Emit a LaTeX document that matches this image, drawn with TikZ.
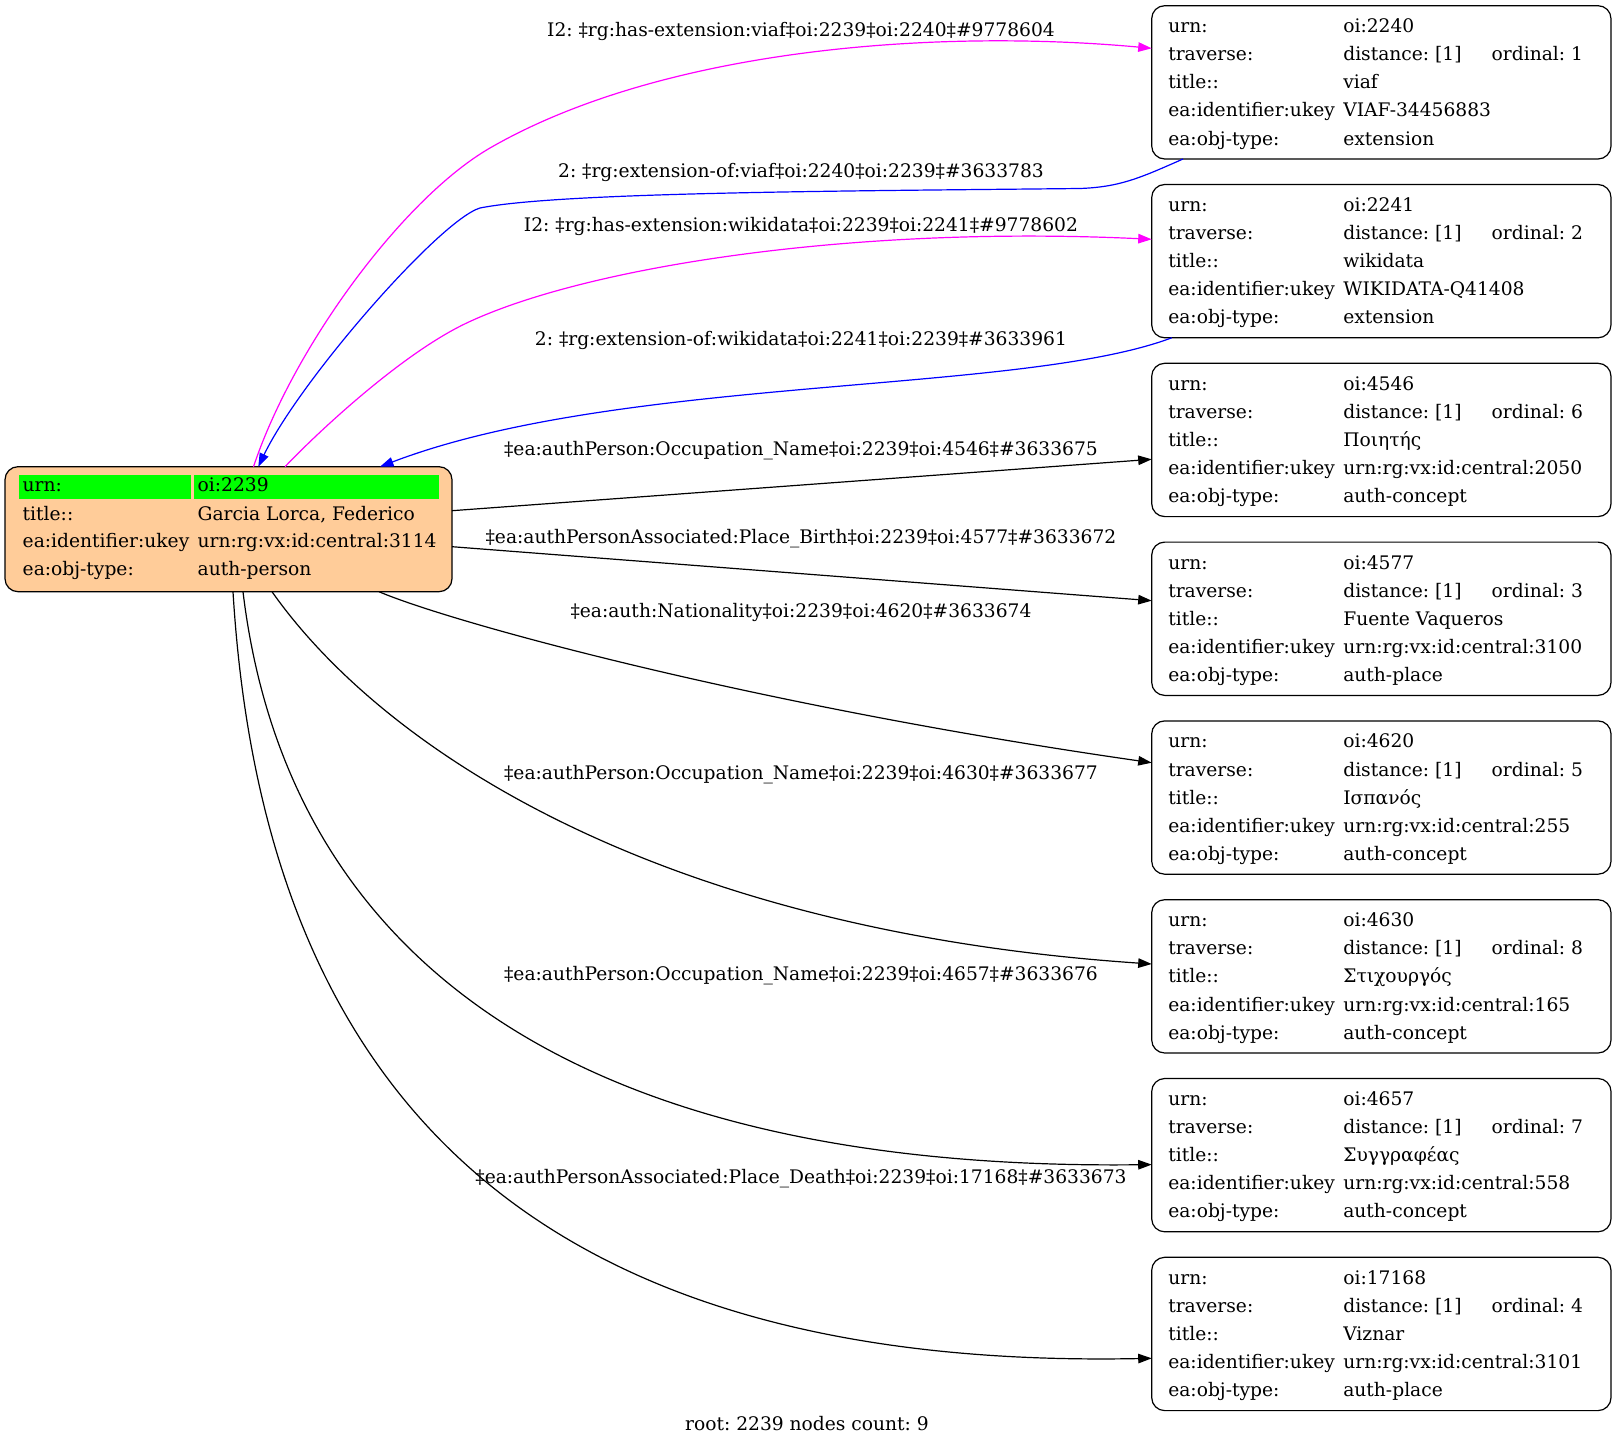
\documentclass[tikz,border=0pt]{standalone}
\usepackage{fontspec}
\setmainfont{DejaVu Serif}
\usetikzlibrary{arrows.meta,calc}
\definecolor{rootfill}{HTML}{FFCC99}
\definecolor{hlgreen}{HTML}{00FF00}
\definecolor{extmag}{HTML}{FF00FF}
\definecolor{extblue}{HTML}{0000FF}
\newcommand\infobox[7]{%
  \node[box] (#1) at (1151.7,#2) {};
  \node[txt] (#1-k1) at ($(#1.north west)+(16.6,27)$) {urn:};
  \node[txt] (#1-k2) at ($(#1.north west)+(16.6,55.1)$) {traverse:};
  \node[txt] (#1-k3) at ($(#1.north west)+(16.6,83.2)$) {title::};
  \node[txt] (#1-k4) at ($(#1.north west)+(16.6,111.3)$) {ea:identifier:ukey};
  \node[txt] (#1-k5) at ($(#1.north west)+(16.6,139.4)$) {ea:obj-type:};
  \node[txt] (#1-v1) at ($(#1.north west)+(191.6,27)$) {#3};
  \node[txt] (#1-v2) at ($(#1.north west)+(191.6,55.1)$) {distance: [1]};
  \node[txt] (#1-o2) at ($(#1.north west)+(340,55.1)$) {ordinal: #4};
  \node[txt] (#1-v3) at ($(#1.north west)+(191.6,83.2)$) {#5};
  \node[txt] (#1-v4) at ($(#1.north west)+(191.6,111.3)$) {#6};
  \node[txt] (#1-v5) at ($(#1.north west)+(191.6,139.4)$) {#7};
}
\frenchspacing
\begin{document}
\frenchspacing
\begin{tikzpicture}[x=1pt,y=-1pt,
  font=\fontsize{18.67}{22}\selectfont\frenchspacing,
  box/.style={draw, line width=1.2pt, rounded corners=13pt, minimum width=459.3pt,
    minimum height=153.3pt, inner sep=0pt, outer sep=0pt, anchor=north west},
  txt/.style={anchor=base west, inner sep=0pt, outer sep=0pt},
  lbl/.style={anchor=base, inner sep=0pt, outer sep=0pt},
  conn/.style={line width=1.2pt, -{Triangle[length=13.5pt,width=9.5pt]}},
  hl/.style={fill=hlgreen, inner sep=0pt, outer sep=0pt, anchor=north west}]
\useasboundingbox (0,0) rectangle (1616,1447);
\fill[white] (0,0) rectangle (1616,1447);

% root node
\node[draw, fill=rootfill, line width=1.2pt, rounded corners=13pt, minimum width=447pt,
  minimum height=125pt, inner sep=0pt, outer sep=0pt, anchor=north west] (root) at (5,466.7) {};
\node[hl, minimum width=171.7pt, minimum height=24.3pt] (g1) at (19.3,475) {};
\node[hl, minimum width=245pt, minimum height=24.3pt] (g2) at (194,475) {};
\node[txt] (r-k1) at (22.7,491.7) {urn:};
\node[txt] (r-k2) at (22.7,520) {title::};
\node[txt] (r-k3) at (22.7,547.5) {ea:identifier:ukey};
\node[txt] (r-k4) at (22.7,575) {ea:obj-type:};
\node[txt] (r-v1) at (197.7,491.7) {oi:2239};
\node[txt] (r-v2) at (197.7,520) {Garcia Lorca, Federico};
\node[txt] (r-v3) at (197.7,547.5) {urn:rg:vx:id:central:3114};
\node[txt] (r-v4) at (197.7,575) {auth-person};

% right nodes
\infobox{n1}{5.7}{oi:2240}{1}{viaf}{VIAF-34456883}{extension}
\infobox{n2}{184.5}{oi:2241}{2}{wikidata}{WIKIDATA-Q41408}{extension}
\infobox{n3}{363.3}{oi:4546}{6}{Ποιητής}{urn:rg:vx:id:central:2050}{auth-concept}
\infobox{n4}{542.1}{oi:4577}{3}{Fuente Vaqueros}{urn:rg:vx:id:central:3100}{auth-place}
\infobox{n5}{720.9}{oi:4620}{5}{Ισπανός}{urn:rg:vx:id:central:255}{auth-concept}
\infobox{n6}{899.7}{oi:4630}{8}{Στιχουργός}{urn:rg:vx:id:central:165}{auth-concept}
\infobox{n7}{1078.5}{oi:4657}{7}{Συγγραφέας}{urn:rg:vx:id:central:558}{auth-concept}
\infobox{n8}{1257.3}{oi:17168}{4}{Viznar}{urn:rg:vx:id:central:3101}{auth-place}

% connectors
\draw[conn, extmag] ($(root.north west)+(248.5,0)$) .. controls (293.5,346.7) and (403.4,198) .. (490,148)
  .. controls (660,50) and (930,28) .. ($(n1.north west)+(0,42.6)$);
\draw[conn, extblue] ($(n1.south west)+(31.3,0)$) .. controls (1140,178) and (1120,187) .. (1080,188.5)
  .. controls (850,191) and (560,192) .. (480,208)
  .. controls (440,220) and (300,380) .. ($(root.north west)+(253.3,0)$);
\draw[conn, extmag] ($(root.north west)+(280,0)$) .. controls (320,430) and (403,353) .. (466.7,323)
  .. controls (584,267.4) and (850,225) .. ($(n2.north west)+(0,54.8)$);
\draw[conn, extblue] ($(n2.south west)+(20,0)$) .. controls (1020,395) and (620,375) .. ($(root.north west)+(375,0)$);
\draw[conn] ($(root.north east)+(0,44)$) -- ($(n3.north west)+(0,96)$);
\draw[conn] ($(root.north east)+(0,80)$) -- ($(n4.north west)+(0,58.6)$);
\draw[conn] ($(root.south west)+(374,0)$) .. controls (450,622) and (750,705) .. ($(n5.north west)+(0,41.8)$);
\draw[conn] ($(root.south west)+(267,0)$) .. controls (380,745) and (650,930) .. ($(n6.north west)+(0,64.3)$);
\draw[conn] ($(root.south west)+(238,0)$) .. controls (280,900) and (500,1172) .. ($(n7.north west)+(0,86.1)$);
\draw[conn] ($(root.south west)+(228,0)$) .. controls (265,1120) and (560,1370) .. ($(n8.north west)+(0,101)$);

% connector labels
\node[lbl] (l1) at (801,37) {I2: ‡rg:has-extension:viaf‡oi:2239‡oi:2240‡\#9778604};
\node[lbl] (l2) at (801,177.5) {2: ‡rg:extension-of:viaf‡oi:2240‡oi:2239‡\#3633783};
\node[lbl] (l3) at (801,231.5) {I2: ‡rg:has-extension:wikidata‡oi:2239‡oi:2241‡\#9778602};
\node[lbl] (l4) at (801,345.5) {2: ‡rg:extension-of:wikidata‡oi:2241‡oi:2239‡\#3633961};
\node[lbl] (l5) at (801,455) {‡ea:authPerson:Occupation\_Name‡oi:2239‡oi:4546‡\#3633675};
\node[lbl] (l6) at (801,543.3) {‡ea:authPersonAssociated:Place\_Birth‡oi:2239‡oi:4577‡\#3633672};
\node[lbl] (l7) at (801,617) {‡ea:auth:Nationality‡oi:2239‡oi:4620‡\#3633674};
\node[lbl] (l8) at (801,779) {‡ea:authPerson:Occupation\_Name‡oi:2239‡oi:4630‡\#3633677};
\node[lbl] (l9) at (801,980) {‡ea:authPerson:Occupation\_Name‡oi:2239‡oi:4657‡\#3633676};
\node[lbl] (l10) at (801,1183) {‡ea:authPersonAssociated:Place\_Death‡oi:2239‡oi:17168‡\#3633673};
\node[lbl] (cap) at (807,1430) {root: 2239 nodes count: 9};
\end{tikzpicture}
\end{document}
